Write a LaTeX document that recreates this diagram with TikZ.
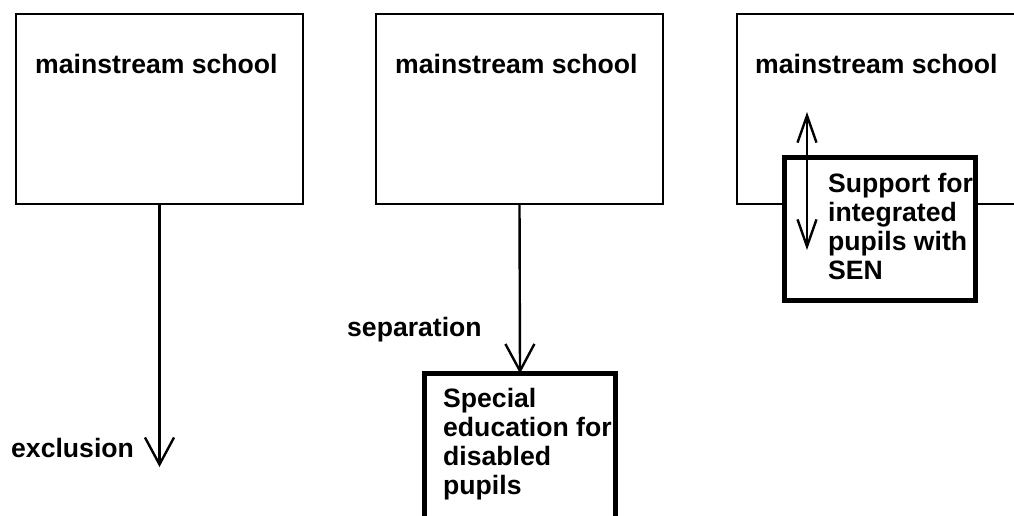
\documentclass[tikz,border=0pt]{standalone}
\usepackage{fontspec}
\setmainfont{Liberation Sans}
\usetikzlibrary{arrows.meta}
\begin{document}
\begin{tikzpicture}[x=1pt,y=-1pt,
  school/.style={draw,line width=2.8pt,minimum width=287pt,minimum height=190pt,outer sep=0pt,inner sep=0pt},
  provision/.style={draw,fill=white,line width=5.5pt,outer sep=0pt,inner sep=0pt,minimum width=191pt},
  caption/.style={inner sep=0pt,font=\bfseries\fontsize{26.6}{29}\selectfont,align=left},
  flow/.style={line width=2.4pt,-{Straight Barb[length=27pt,width=29pt]}},
  twoway/.style={line width=2.4pt,{Straight Barb[length=27pt,width=19pt]}-{Straight Barb[length=27pt,width=19pt]}}]
\useasboundingbox (0,0) rectangle (1014,515);
\clip (0,0) rectangle (1014,515);

% three mainstream schools
\node[school] (ms1) at (159.5,109) {};
\node[school] (ms2) at (519.5,109) {};
\node[school] (ms3) at (880.5,109) {};
\node[caption,anchor=base west] (t1) at (35,73) {mainstream school};
\node[caption,anchor=base west] (t2) at (395,73) {mainstream school};
\node[caption,anchor=base west] (t3) at (755,73) {mainstream school};

% exclusion
\coordinate (exend) at (159.5,467);
\draw[flow] (ms1.south) -- (exend);
\node[caption,anchor=base west] (exl) at (11,457) {exclusion};

% separation (the base anchor of a multi-line caption is its last line)
\node[provision,minimum height=190pt] (sp) at (520,468.5) {};
\node[caption,anchor=base west] (spt) at (443,494) {Special\\education for\\disabled\\pupils};
\draw[flow] (ms2.south) -- (sp.north);
\node[caption,anchor=base west] (sepl) at (347,336) {separation};

% integration
\node[provision,minimum height=143pt] (su) at (880,229) {};
\node[caption,anchor=base west] (sut) at (828,279) {Support for\\integrated\\pupils with\\SEN};
\coordinate (inA) at (807,112);
\coordinate (inB) at (807,250);
\draw[twoway] (inA) -- (inB);
\end{tikzpicture}
\end{document}
